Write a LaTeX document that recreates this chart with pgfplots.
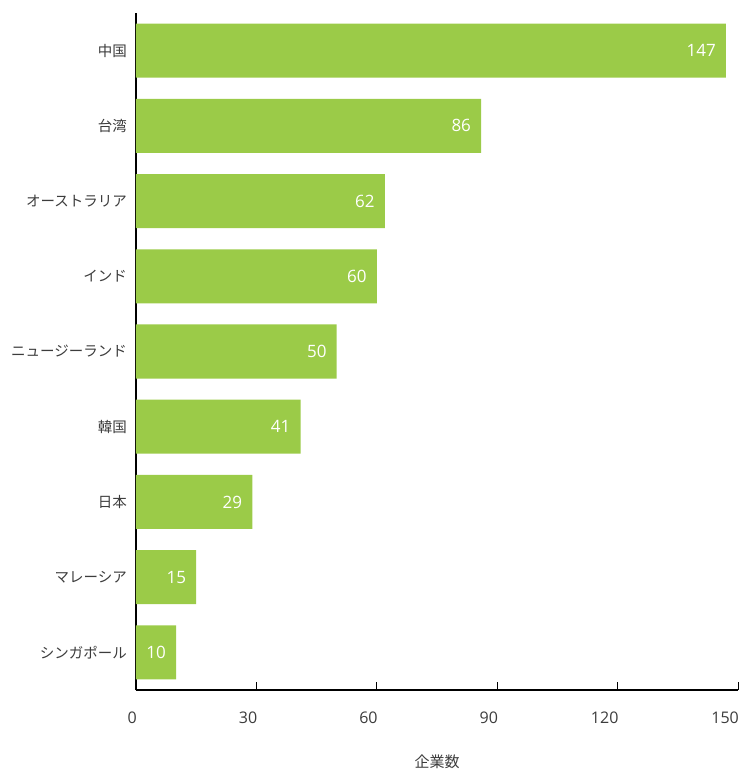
\documentclass[border=0pt]{standalone}
\usepackage{pgfplots}
\pgfplotsset{compat=1.18}
\usepackage{fontspec}
\setmainfont{Open Sans}
\newfontfamily\jp{Noto Sans CJK JP}
\definecolor{barg}{RGB}{155,203,72}
\definecolor{txt}{RGB}{60,60,60}

\begin{document}
\begin{tikzpicture}
\useasboundingbox (-136bp,-81bp) rectangle (605bp,690bp);
\begin{axis}[
  at={(0,0)}, anchor=south west,
  scale only axis, width=602bp, height=677bp,
  xbar, bar width=54bp,
  xmin=0, xmax=150, ymin=-0.5, ymax=8.5,
  axis x line*=bottom, axis y line*=left,
  axis line style={black, line width=1.2bp},
  xtick={0,30,...,150}, xtick align=inside, major tick length=8bp,
  xtick style={black, line width=1bp},
  ytick={0,...,8}, ytick style={draw=none},
  yticklabels={シンガポール,マレーシア,日本,韓国,ニュージーランド,インド,オーストラリア,台湾,中国},
  yticklabel style={font=\jp\fontsize{14.5bp}{16bp}\selectfont, text=txt, anchor=east, inner sep=0pt, xshift=-1bp},
  /pgf/number format/assume math mode=true,
  xticklabel style={font=\fontsize{16bp}{18bp}\selectfont, text=txt, anchor=north east, inner sep=0pt, yshift=-22bp, xshift=1bp},
  xlabel={企業数},
  xlabel style={font=\jp\fontsize{15bp}{17bp}\selectfont, text=txt, at={(axis description cs:0.5,0)}, anchor=center, yshift=-72bp},
  nodes near coords,
  nodes near coords align=horizontal,
  every node near coord/.append style={anchor=east, xshift=-10bp, inner sep=0pt, white, font=\fontsize{17bp}{19bp}\selectfont},
]
\addplot[fill=barg, draw=none] coordinates {
  (10,0) (15,1) (29,2) (41,3) (50,4) (60,5) (62,6) (86,7) (147,8)
};
\end{axis}
\end{tikzpicture}
\end{document}
